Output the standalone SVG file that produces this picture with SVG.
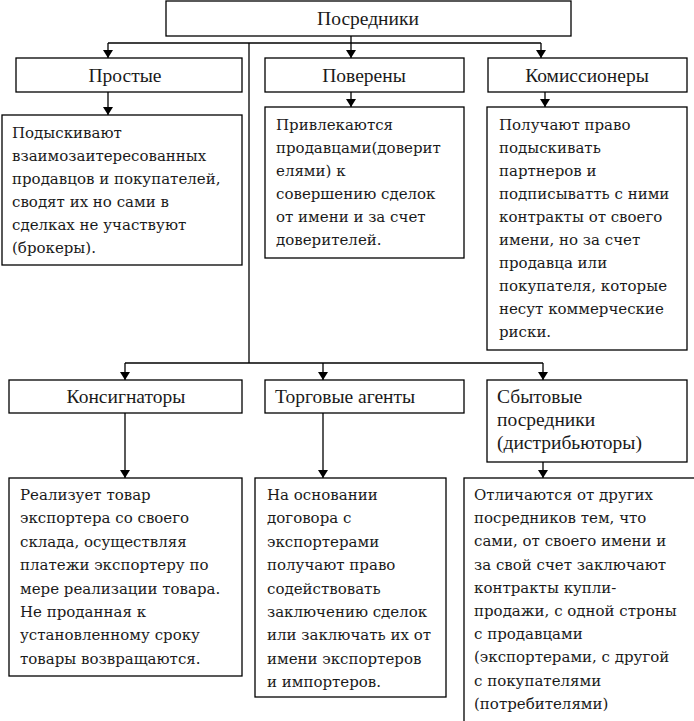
<svg xmlns="http://www.w3.org/2000/svg" width="694" height="721" viewBox="0 0 694 721">
<defs>
<marker id="arr" markerWidth="8" markerHeight="10" refX="8" refY="5" orient="auto" markerUnits="userSpaceOnUse" viewBox="0 0 8 10">
<path d="M0,0 L8,5 L0,10 Z" fill="#000"/>
</marker>
</defs>
<style>
.box{fill:#fff;stroke:#000;stroke-width:1.3}
.hd{font-family:"Liberation Serif","Times New Roman",serif;font-size:19.5px;fill:#1a1a1a}
.tx{font-family:"DejaVu Serif",serif;font-size:15px;fill:#1a1a1a}
.ln{fill:none;stroke:#000;stroke-width:1.3}
</style>
<rect width="694" height="721" fill="#fff"/>
<g id="connectors">
<path class="ln" d="M108,43 H541"/>
<path class="ln" d="M351,36 V58" marker-end="url(#arr)"/>
<path class="ln" d="M108,43 V58" marker-end="url(#arr)"/>
<path class="ln" d="M541,43 V58" marker-end="url(#arr)"/>
<path class="ln" d="M108,92 V115" marker-end="url(#arr)"/>
<path class="ln" d="M351,92 V107" marker-end="url(#arr)"/>
<path class="ln" d="M545,92 V107" marker-end="url(#arr)"/>
<path class="ln" d="M249,43 V363"/>
<path class="ln" d="M125,363 H543"/>
<path class="ln" d="M125,363 V380" marker-end="url(#arr)"/>
<path class="ln" d="M323,363 V380" marker-end="url(#arr)"/>
<path class="ln" d="M543,363 V380" marker-end="url(#arr)"/>
<path class="ln" d="M125,413 V478" marker-end="url(#arr)"/>
<path class="ln" d="M323,413 V478" marker-end="url(#arr)"/>
<path class="ln" d="M543,462 V478" marker-end="url(#arr)"/>
</g>
<g id="posredniki">
<rect class="box" x="166" y="1" width="405" height="35"/>
<text class="hd" x="368" y="24.5" text-anchor="middle">Посредники</text>
</g>
<g id="prostye">
<rect class="box" x="16" y="58" width="226" height="34"/>
<text class="hd" x="125" y="81.5" text-anchor="middle">Простые</text>
</g>
<g id="povereny">
<rect class="box" x="265" y="58" width="199" height="34"/>
<text class="hd" x="364" y="81.5" text-anchor="middle">Поверены</text>
</g>
<g id="komissionery">
<rect class="box" x="488" y="58" width="199" height="34"/>
<text class="hd" x="587" y="81.5" text-anchor="middle">Комиссионеры</text>
</g>
<g id="prostye-desc">
<rect class="box" x="2" y="115" width="240" height="150"/>
<text class="tx" x="12" y="138"><tspan x="12">Подыскивают</tspan><tspan x="12" dy="23">взаимозаитересованных</tspan><tspan x="12" dy="23">продавцов и покупателей,</tspan><tspan x="12" dy="23">сводят их но сами в</tspan><tspan x="12" dy="23">сделках не участвуют</tspan><tspan x="12" dy="23">(брокеры).</tspan></text>
</g>
<g id="povereny-desc">
<rect class="box" x="265" y="107" width="199" height="151"/>
<text class="tx" x="276" y="130"><tspan x="276">Привлекаются</tspan><tspan x="276" dy="23">продавцами(доверит</tspan><tspan x="276" dy="23">елями) к</tspan><tspan x="276" dy="23">совершению сделок</tspan><tspan x="276" dy="23">от имени и за счет</tspan><tspan x="276" dy="23">доверителей.</tspan></text>
</g>
<g id="komissionery-desc">
<rect class="box" x="487" y="107" width="200" height="243"/>
<text class="tx" x="499" y="130"><tspan x="499">Получают право</tspan><tspan x="499" dy="23">подыскивать</tspan><tspan x="499" dy="23">партнеров и</tspan><tspan x="499" dy="23">подписыватть с ними</tspan><tspan x="499" dy="23">контракты от своего</tspan><tspan x="499" dy="23">имени, но за счет</tspan><tspan x="499" dy="23">продавца или</tspan><tspan x="499" dy="23">покупателя, которые</tspan><tspan x="499" dy="23">несут коммерческие</tspan><tspan x="499" dy="23">риски.</tspan></text>
</g>
<g id="konsignatory">
<rect class="box" x="9" y="380" width="233" height="33"/>
<text class="hd" x="126" y="403" text-anchor="middle">Консигнаторы</text>
</g>
<g id="torgovye-agenty">
<rect class="box" x="265" y="380" width="199" height="33"/>
<text class="hd" x="275" y="403">Торговые агенты</text>
</g>
<g id="sbytovye">
<rect class="box" x="487" y="380" width="200" height="82"/>
<text class="hd" x="497" y="403"><tspan x="497">Сбытовые</tspan><tspan x="497" dy="23">посредники</tspan><tspan x="497" dy="23">(дистрибьюторы)</tspan></text>
</g>
<g id="konsignatory-desc">
<rect class="box" x="9" y="478" width="233" height="198"/>
<text class="tx" x="20" y="500"><tspan x="20">Реализует товар</tspan><tspan x="20" dy="23.4">экспортера со своего</tspan><tspan x="20" dy="23.4">склада, осуществляя</tspan><tspan x="20" dy="23.4">платежи экспортеру по</tspan><tspan x="20" dy="23.4">мере реализации товара.</tspan><tspan x="20" dy="23.4">Не проданная к</tspan><tspan x="20" dy="23.4">установленному сроку</tspan><tspan x="20" dy="23.4">товары возвращаются.</tspan></text>
</g>
<g id="agenty-desc">
<rect class="box" x="255" y="478" width="191" height="219"/>
<text class="tx" x="267" y="500"><tspan x="267">На основании</tspan><tspan x="267" dy="23.4">договора с</tspan><tspan x="267" dy="23.4">экспортерами</tspan><tspan x="267" dy="23.4">получают право</tspan><tspan x="267" dy="23.4">содействовать</tspan><tspan x="267" dy="23.4">заключению сделок</tspan><tspan x="267" dy="23.4">или заключать их от</tspan><tspan x="267" dy="23.4">имени экспортеров</tspan><tspan x="267" dy="23.4">и импортеров.</tspan></text>
</g>
<g id="sbytovye-desc">
<rect class="box" x="464" y="478" width="240" height="260"/>
<text class="tx" x="474" y="500"><tspan x="474">Отличаются от других</tspan><tspan x="474" dy="23.2">посредников тем, что</tspan><tspan x="474" dy="23.2">сами, от своего имени и</tspan><tspan x="474" dy="23.2">за свой счет заключают</tspan><tspan x="474" dy="23.2">контракты купли-</tspan><tspan x="474" dy="23.2">продажи, с одной строны</tspan><tspan x="474" dy="23.2">с продавцами</tspan><tspan x="474" dy="23.2">(экспортерами, с другой</tspan><tspan x="474" dy="23.2">с покупателями</tspan><tspan x="474" dy="23.2">(потребителями)</tspan></text>
</g>
</svg>
